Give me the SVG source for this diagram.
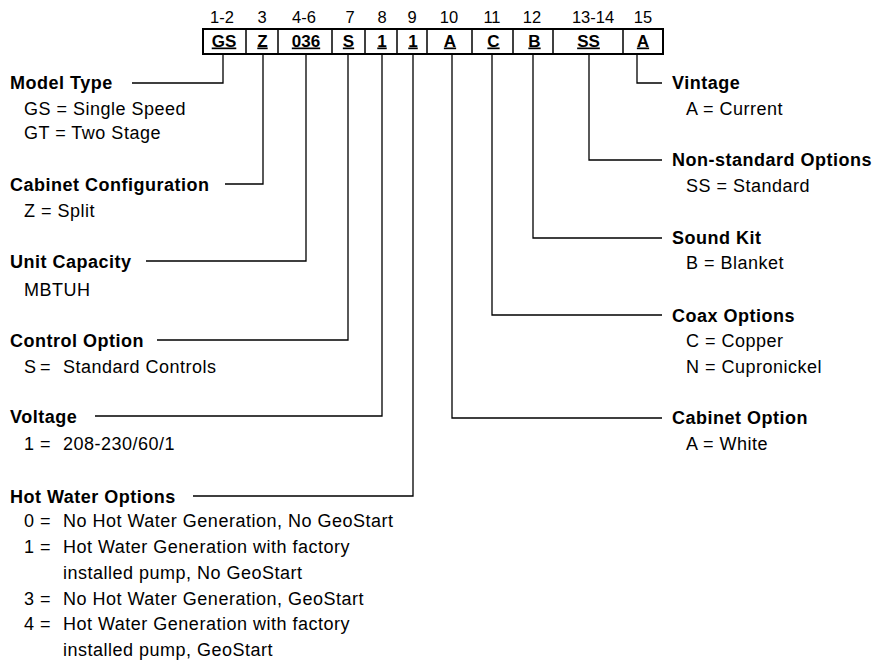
<svg xmlns="http://www.w3.org/2000/svg" width="874" height="664" viewBox="0 0 874 664">
<style>
  text { font-family: "Liberation Sans", Arial, sans-serif; fill: #000; }
  .num { font-size: 16.5px; text-anchor: middle; }
  .code { font-size: 17px; font-weight: bold; text-anchor: middle; text-decoration: underline; }
  .hd { font-size: 18px; font-weight: bold; letter-spacing: 0.5px; }
  .it { font-size: 18px; letter-spacing: 0.5px; }
  .ln { fill: none; stroke: #000; stroke-width: 1.3; }
  .box { fill: #fff; stroke: #000; stroke-width: 2; }
  .div { stroke: #000; stroke-width: 1.5; }
</style>

<g id="header">
  <g id="positions">
    <text class="num" x="222" y="23">1-2</text>
    <text class="num" x="262" y="23">3</text>
    <text class="num" x="304" y="23">4-6</text>
    <text class="num" x="350" y="23">7</text>
    <text class="num" x="382" y="23">8</text>
    <text class="num" x="412" y="23">9</text>
    <text class="num" x="449" y="23">10</text>
    <text class="num" x="492" y="23">11</text>
    <text class="num" x="532" y="23">12</text>
    <text class="num" x="593" y="23">13-14</text>
    <text class="num" x="643" y="23">15</text>
  </g>
  <g id="codebox">
    <rect class="box" x="203" y="29" width="460" height="25"/>
    <line class="div" x1="246" y1="29" x2="246" y2="54"/>
    <line class="div" x1="278" y1="29" x2="278" y2="54"/>
    <line class="div" x1="332" y1="29" x2="332" y2="54"/>
    <line class="div" x1="365" y1="29" x2="365" y2="54"/>
    <line class="div" x1="397" y1="29" x2="397" y2="54"/>
    <line class="div" x1="427" y1="29" x2="427" y2="54"/>
    <line class="div" x1="472" y1="29" x2="472" y2="54"/>
    <line class="div" x1="513" y1="29" x2="513" y2="54"/>
    <line class="div" x1="553" y1="29" x2="553" y2="54"/>
    <line class="div" x1="623" y1="29" x2="623" y2="54"/>
    <text class="code" x="224" y="46.5">GS</text>
    <text class="code" x="262.5" y="46.5">Z</text>
    <text class="code" x="306" y="46.5">036</text>
    <text class="code" x="348.5" y="46.5">S</text>
    <text class="code" x="382" y="46.5">1</text>
    <text class="code" x="413" y="46.5">1</text>
    <text class="code" x="450" y="46.5">A</text>
    <text class="code" x="493.5" y="46.5">C</text>
    <text class="code" x="534.5" y="46.5">B</text>
    <text class="code" x="588.5" y="46.5">SS</text>
    <text class="code" x="643" y="46.5">A</text>
  </g>
</g>

<g id="connectors">
  <polyline class="ln" points="132,83 223,83 223,54"/>
  <polyline class="ln" points="225,184 263,184 263,54"/>
  <polyline class="ln" points="146,261 306,261 306,54"/>
  <polyline class="ln" points="157,340 348,340 348,54"/>
  <polyline class="ln" points="95,416 382,416 382,54"/>
  <polyline class="ln" points="193,496 413,496 413,54"/>
  <polyline class="ln" points="662,418 452,418 452,54"/>
  <polyline class="ln" points="662,315 492,315 492,54"/>
  <polyline class="ln" points="662,238 533,238 533,54"/>
  <polyline class="ln" points="662,160 589,160 589,54"/>
  <polyline class="ln" points="662,83 637,83 637,54"/>
</g>

<g id="model-type">
  <text class="hd" x="10" y="89">Model Type</text>
  <text class="it" x="24" y="115">GS = Single Speed</text>
  <text class="it" x="24" y="139">GT = Two Stage</text>
</g>
<g id="cabinet-configuration">
  <text class="hd" x="10" y="191">Cabinet Configuration</text>
  <text class="it" x="24" y="217">Z = Split</text>
</g>
<g id="unit-capacity">
  <text class="hd" x="10" y="268">Unit Capacity</text>
  <text class="it" x="24" y="296">MBTUH</text>
</g>
<g id="control-option">
  <text class="hd" x="10" y="347">Control Option</text>
  <text class="it" y="373"><tspan x="24">S</tspan><tspan x="40">=</tspan><tspan x="63">Standard Controls</tspan></text>
</g>
<g id="voltage">
  <text class="hd" x="10" y="423">Voltage</text>
  <text class="it" y="450"><tspan x="24">1</tspan><tspan x="40">=</tspan><tspan x="63">208-230/60/1</tspan></text>
</g>
<g id="hot-water-options">
  <text class="hd" x="10" y="503">Hot Water Options</text>
  <text class="it" y="527"><tspan x="24">0</tspan><tspan x="40">=</tspan><tspan x="63">No Hot Water Generation, No GeoStart</tspan></text>
  <text class="it" y="553"><tspan x="24">1</tspan><tspan x="40">=</tspan><tspan x="63">Hot Water Generation with factory</tspan></text>
  <text class="it" x="63" y="579">installed pump, No GeoStart</text>
  <text class="it" y="605"><tspan x="24">3</tspan><tspan x="40">=</tspan><tspan x="63">No Hot Water Generation, GeoStart</tspan></text>
  <text class="it" y="630"><tspan x="24">4</tspan><tspan x="40">=</tspan><tspan x="63">Hot Water Generation with factory</tspan></text>
  <text class="it" x="63" y="656">installed pump, GeoStart</text>
</g>

<g id="vintage">
  <text class="hd" x="672" y="89">Vintage</text>
  <text class="it" x="686" y="115">A = Current</text>
</g>
<g id="non-standard-options">
  <text class="hd" x="672" y="166">Non-standard Options</text>
  <text class="it" x="686" y="192">SS = Standard</text>
</g>
<g id="sound-kit">
  <text class="hd" x="672" y="244">Sound Kit</text>
  <text class="it" x="686" y="269">B = Blanket</text>
</g>
<g id="coax-options">
  <text class="hd" x="672" y="322">Coax Options</text>
  <text class="it" x="686" y="347">C = Copper</text>
  <text class="it" x="686" y="373">N = Cupronickel</text>
</g>
<g id="cabinet-option">
  <text class="hd" x="672" y="424">Cabinet Option</text>
  <text class="it" x="686" y="450">A = White</text>
</g>
</svg>
